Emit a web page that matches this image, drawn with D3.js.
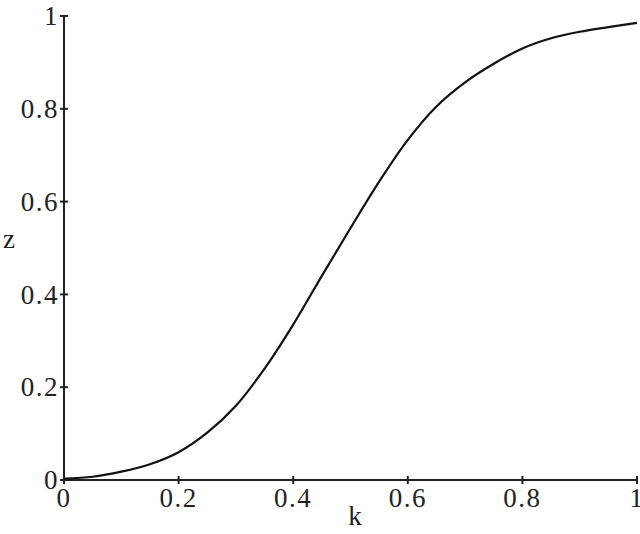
<!DOCTYPE html>
<html><head><meta charset="utf-8">
<script src="https://cdn.jsdelivr.net/npm/d3@7"></script>
<style>
html,body{margin:0;padding:0;background:#fff;}
</style></head>
<body><svg id="c" width="640" height="534"></svg>
<script>
const kValues = [0,0.05,0.1,0.15,0.2,0.25,0.3,0.35,0.4,0.45,0.5,0.55,0.6,0.65,0.7,0.75,0.8,0.85,0.9,0.95,1.0];
const zValues = [0.003,0.007,0.018,0.034,0.06,0.102,0.16,0.24,0.335,0.44,0.543,0.643,0.733,0.805,0.857,0.897,0.93,0.952,0.966,0.976,0.985];
const xTicks = [0,0.2,0.4,0.6,0.8,1];
const yTicks = [0,0.2,0.4,0.6,0.8,1];
const xTickLabels = ["0","0.2","0.4","0.6","0.8","1"];
const yTickLabels = ["0","0.2","0.4","0.6","0.8","1"];

const FONT = "'Liberation Serif', 'Times New Roman', Times, serif";
const svg = d3.select("#c");
const x = d3.scaleLinear().domain([0,1]).range([64,637]);
const y = d3.scaleLinear().domain([0,1]).range([480,16]);

svg.append("line").attr("x1",x(0)).attr("x2",x(1)).attr("y1",y(0)).attr("y2",y(0))
  .attr("stroke","#222").attr("stroke-width",2);
svg.append("line").attr("x1",x(0)).attr("x2",x(0)).attr("y1",y(0)).attr("y2",y(1))
  .attr("stroke","#222").attr("stroke-width",2);

const xg = svg.append("g");
xg.selectAll("line").data(xTicks).join("line")
  .attr("x1",d=>x(d)).attr("x2",d=>x(d)).attr("y1",y(0)-4).attr("y2",y(0)+4)
  .attr("stroke","#222").attr("stroke-width",2);
xg.selectAll("text").data(xTicks).join("text")
  .attr("x",d=>x(d)).attr("y",507).attr("text-anchor","middle")
  .attr("font-family",FONT).attr("fill","#222")
  .attr("font-size",27).attr("letter-spacing","1.5")
  .text((d,i)=>xTickLabels[i]);

const yg = svg.append("g");
yg.selectAll("line").data(yTicks).join("line")
  .attr("x1",x(0)-4).attr("x2",x(0)+4).attr("y1",d=>y(d)).attr("y2",d=>y(d))
  .attr("stroke","#222").attr("stroke-width",2);
yg.selectAll("text").data(yTicks).join("text")
  .attr("x",59).attr("y",d=>y(d)).attr("dy","0.34em").attr("text-anchor","end")
  .attr("font-family",FONT).attr("fill","#222")
  .attr("font-size",27).attr("letter-spacing","1.5")
  .text((d,i)=>yTickLabels[i]);

svg.append("text").attr("x",355).attr("y",525).attr("text-anchor","middle")
  .attr("font-family",FONT).attr("fill","#222").attr("font-size",27).text("k");
svg.append("text").attr("x",9).attr("y",248).attr("text-anchor","middle")
  .attr("font-family",FONT).attr("fill","#222").attr("font-size",27).text("z");

const data = kValues.map((k,i)=>({k, z:zValues[i]}));
svg.append("path").datum(data)
  .attr("fill","none").attr("stroke","#111").attr("stroke-width",2.2)
  .attr("d", d3.line().x(d=>x(d.k)).y(d=>y(d.z)).curve(d3.curveCatmullRom));
</script></body></html>
